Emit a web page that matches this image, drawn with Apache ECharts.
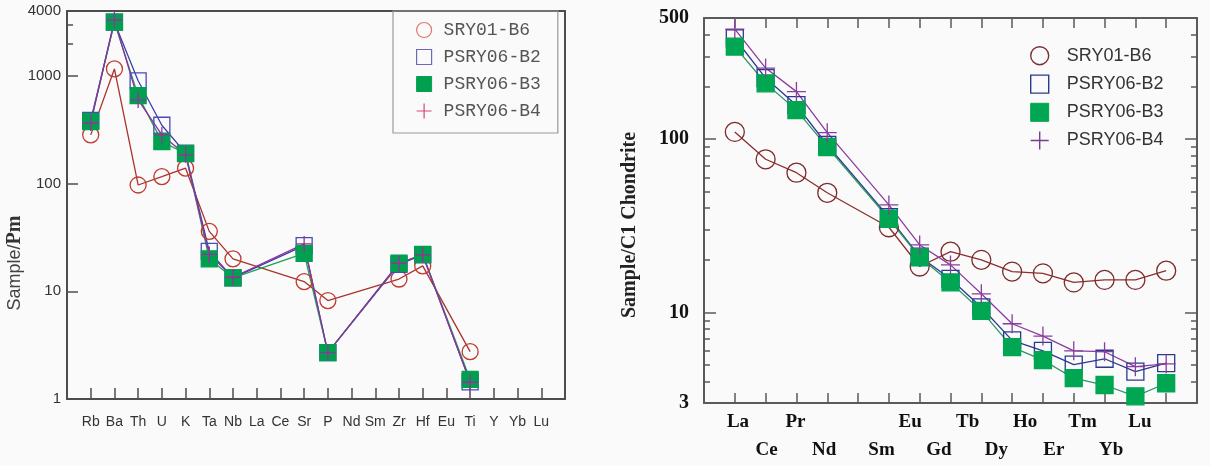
<!DOCTYPE html>
<html>
<head>
<meta charset="utf-8">
<title>Spider diagrams</title>
<script src="https://cdn.jsdelivr.net/npm/echarts@6/dist/echarts.min.js"></script>
<style>
html, body { margin: 0; padding: 0; background: #fafafa; }
#main { width: 1210px; height: 466px; }
</style>
</head>
<body>
<div id="main"></div>
<script>
// left: primitive mantle normalised spider diagram
var spiderElements = ['Rb','Ba','Th','U','K','Ta','Nb','La','Ce','Sr','P','Nd','Sm','Zr','Hf','Eu','Ti','Y','Yb','Lu'];
var spiderB6 = [283, 1160, 97, 116, 139, 36, 20, null, null, 12.3, 8.2, null, null, 13, 17.2, null, 2.75, null, null, null];
var spiderB2 = [385, 3150, 900, 348, 192, 23.5, 13.3, null, null, 26.5, 2.7, null, null, 17.8, 21.8, null, 1.44, null, null, null];
var spiderB3 = [376, 3150, 655, 245, 190, 20, 13.3, null, null, 22.5, 2.7, null, null, 18.2, 22, null, 1.52, null, null, null];
var spiderB4 = [365, 3300, 598, 283, 185, 22, 13.5, null, null, 27.5, 2.7, null, null, 18.2, 21.8, null, 1.43, null, null, null];
var spiderYLabels = [1, 10, 100, 1000, 4000];

// right: chondrite normalised REE (Pm has no value)
var reeElements = ['La','Ce','Pr','Nd','','Sm','Eu','Gd','Tb','Dy','Ho','Er','Tm','Yb','Lu'];
var reeB6 = [110, 76.5, 64, 49, null, 31, 18.4, 22.4, 20.1, 17.2, 16.8, 14.9, 15.4, 15.4, 17.4];
var reeB2 = [382, 225, 157, 92.5, null, 35.5, 21, 15.6, 10.7, 6.9, 6.0, 5.0, 5.4, 4.55, 5.1];
var reeB3 = [342, 210, 147, 90, null, 34.7, 20.8, 14.9, 10.2, 6.3, 5.3, 4.17, 3.81, 3.28, 3.9];
var reeB4 = [431, 257, 188, 109, null, 41.7, 24.5, 18.8, 12.8, 8.6, 7.3, 6.0, 5.93, 4.86, 5.04];
var reeYLabels = [3, 10, 100, 500];
var reeMajorTicks = [10, 100];
var reeMinorTicks = [4, 5, 6, 7, 8, 9, 20, 30, 40, 50, 60, 70, 80, 90, 200, 300, 400];

var names = ['SRY01-B6', 'PSRY06-B2', 'PSRY06-B3', 'PSRY06-B4'];
var plusPath = 'path://M0,5L10,5M5,0L5,10';

function toPoints(vals) {
  var out = [];
  vals.forEach(function (v, i) {
    if (v != null) out.push([i + 1, v]);
  });
  return out;
}
function range(n) {
  var a = [];
  for (var i = 1; i <= n; i++) a.push(i);
  return a;
}
function plain(v) { return String(v); }

var myChart = echarts.init(document.getElementById('main'));

var noLine = { show: false };

function lineSeries(name, data, xi, yi, symbol, size, lineColor, fill, stroke) {
  return {
    name: name,
    type: 'line',
    xAxisIndex: xi,
    yAxisIndex: yi,
    data: data,
    symbol: symbol,
    symbolSize: size,
    showAllSymbol: true,
    connectNulls: true,
    animation: false,
    lineStyle: { color: lineColor, width: 1.3 },
    itemStyle: { color: fill, borderColor: stroke, borderWidth: 1.3 },
    emphasis: { disabled: true }
  };
}

var option = {
  backgroundColor: '#fafafa',
  animation: false,
  grid: [
    { left: 67, top: 11, width: 498, height: 388 },
    { left: 704, top: 18, width: 493, height: 385 }
  ],
  xAxis: [
    {
      gridIndex: 0, type: 'value', position: 'bottom', min: 0, max: 21,
      axisLine: { show: true, onZero: false, lineStyle: { color: '#4d4d4d', width: 2 } },
      axisTick: { inside: true, length: 11, customValues: range(20), lineStyle: { color: '#4d4d4d', width: 1.5 } },
      axisLabel: {
        customValues: range(20), margin: 15,
        fontFamily: 'Liberation Sans', fontSize: 14, color: '#333', lineHeight: 16,
        formatter: function (v) { return spiderElements[Math.round(v) - 1]; }
      },
      splitLine: { show: false }
    },
    {
      gridIndex: 0, type: 'value', position: 'top', min: 0, max: 21,
      axisLine: { show: true, onZero: false, lineStyle: { color: '#4d4d4d', width: 2 } },
      axisTick: noLine, axisLabel: noLine, splitLine: noLine
    },
    {
      gridIndex: 1, type: 'value', position: 'bottom', min: 0, max: 16,
      axisLine: { show: true, onZero: false, lineStyle: { color: '#5a5a5a', width: 2 } },
      axisTick: { inside: true, length: 10, customValues: range(15), lineStyle: { color: '#5a5a5a', width: 1.5 } },
      axisLabel: noLine, splitLine: noLine
    },
    {
      gridIndex: 1, type: 'value', position: 'top', min: 0, max: 16,
      axisLine: { show: true, onZero: false, lineStyle: { color: '#5a5a5a', width: 2 } },
      axisTick: { inside: true, length: 10, customValues: range(15), lineStyle: { color: '#5a5a5a', width: 1.5 } },
      axisLabel: noLine, splitLine: noLine
    },
    {
      // label row of the REE plot, slightly narrower spacing than the ticks
      gridIndex: 1, type: 'value', position: 'bottom', min: -0.184, max: 16.99,
      axisLine: { show: false, onZero: false }, axisTick: noLine, splitLine: noLine,
      axisLabel: {
        customValues: range(15), margin: 5,
        fontFamily: 'Liberation Serif', fontWeight: 'bold', fontSize: 19, color: '#111', lineHeight: 28,
        formatter: function (v) {
          var i = Math.round(v);
          var s = reeElements[i - 1];
          return i % 2 === 0 ? '\n' + s : s;
        }
      }
    }
  ],
  yAxis: [
    {
      gridIndex: 0, type: 'log', logBase: 10, min: 1, max: 4000, position: 'left',
      axisLine: { show: true, onZero: false, lineStyle: { color: '#4d4d4d', width: 2 } },
      axisTick: { inside: true, length: 11, customValues: [1, 10, 100, 1000], lineStyle: { color: '#4d4d4d', width: 1.5 } },
      axisLabel: { customValues: spiderYLabels, margin: 6, fontFamily: 'Liberation Sans', fontSize: 15, color: '#333', formatter: plain },
      splitLine: noLine
    },
    {
      gridIndex: 0, type: 'log', logBase: 10, min: 1, max: 4000, position: 'left',
      axisLine: { show: false, onZero: false },
      axisTick: { inside: true, length: 6, customValues: [2000, 3000], lineStyle: { color: '#4d4d4d', width: 1.5 } },
      axisLabel: noLine, splitLine: noLine
    },
    {
      gridIndex: 0, type: 'log', logBase: 10, min: 1, max: 4000, position: 'right',
      axisLine: { show: true, onZero: false, lineStyle: { color: '#4d4d4d', width: 2 } },
      axisTick: noLine, axisLabel: noLine, splitLine: noLine
    },
    {
      gridIndex: 1, type: 'log', logBase: 10, min: 3, max: 500, position: 'left',
      axisLine: { show: true, onZero: false, lineStyle: { color: '#5a5a5a', width: 2 } },
      axisTick: { inside: true, length: 12, customValues: reeMajorTicks, lineStyle: { color: '#5a5a5a', width: 1.5 } },
      axisLabel: { customValues: reeYLabels, margin: 15, fontFamily: 'Liberation Serif', fontWeight: 'bold', fontSize: 20, color: '#111', formatter: plain },
      splitLine: noLine
    },
    {
      gridIndex: 1, type: 'log', logBase: 10, min: 3, max: 500, position: 'left',
      axisLine: { show: false, onZero: false },
      axisTick: { inside: true, length: 6, customValues: reeMinorTicks, lineStyle: { color: '#5a5a5a', width: 1.5 } },
      axisLabel: noLine, splitLine: noLine
    },
    {
      gridIndex: 1, type: 'log', logBase: 10, min: 3, max: 500, position: 'right',
      axisLine: { show: true, onZero: false, lineStyle: { color: '#5a5a5a', width: 2 } },
      axisTick: { inside: true, length: 12, customValues: reeMajorTicks, lineStyle: { color: '#5a5a5a', width: 1.5 } },
      axisLabel: noLine, splitLine: noLine
    },
    {
      gridIndex: 1, type: 'log', logBase: 10, min: 3, max: 500, position: 'right',
      axisLine: { show: false, onZero: false },
      axisTick: { inside: true, length: 6, customValues: reeMinorTicks, lineStyle: { color: '#5a5a5a', width: 1.5 } },
      axisLabel: noLine, splitLine: noLine
    }
  ],
  legend: [
    {
      left: 393, top: 11, orient: 'vertical', selectedMode: false,
      padding: [10, 17, 13, 23], itemWidth: 15, itemHeight: 15, itemGap: 9,
      borderColor: '#9a9a9a', borderWidth: 1.2,
      textStyle: { fontFamily: 'Liberation Mono', fontSize: 18, color: '#555', lineHeight: 15, padding: [0, 0, 0, 7] },
      data: [
        { name: names[0], icon: 'circle', itemStyle: { color: 'transparent', borderColor: '#e0766b', borderWidth: 1.2 } },
        { name: names[1], icon: 'rect', itemStyle: { color: 'transparent', borderColor: '#6a6ab8', borderWidth: 1.2 } },
        { name: names[2], icon: 'rect', itemStyle: { color: '#00a050', borderColor: '#00a050', borderWidth: 1 } },
        { name: names[3], icon: plusPath, itemStyle: { color: 'transparent', borderColor: '#d5467a', borderWidth: 1.2 } }
      ]
    },
    {
      left: 1030, top: 46, orient: 'vertical', selectedMode: false,
      padding: 0, itemWidth: 18, itemHeight: 18, itemGap: 9,
      textStyle: { fontFamily: 'Liberation Sans', fontSize: 18, color: '#333', padding: [0, 0, 0, 13] },
      data: [
        { name: names[0], icon: 'circle', itemStyle: { color: 'transparent', borderColor: '#7d3030', borderWidth: 1.4 } },
        { name: names[1], icon: 'rect', itemStyle: { color: 'transparent', borderColor: '#2b3a8c', borderWidth: 1.4 } },
        { name: names[2], icon: 'rect', itemStyle: { color: '#00a651', borderColor: '#00a651', borderWidth: 1 } },
        { name: names[3], icon: plusPath, itemStyle: { color: 'transparent', borderColor: '#7a3a96', borderWidth: 1.4 } }
      ]
    }
  ],
  graphic: [
    {
      type: 'text', x: 15, y: 263, rotation: Math.PI / 2,
      style: {
        text: '{a|Sample/}{b|Pm}', align: 'center', verticalAlign: 'middle',
        rich: {
          a: { fontFamily: 'Liberation Sans', fontSize: 18, fill: '#444' },
          b: { fontFamily: 'Liberation Serif', fontWeight: 'bold', fontSize: 20, fill: '#333' }
        }
      }
    },
    {
      type: 'text', x: 630, y: 225, rotation: Math.PI / 2,
      style: {
        text: 'Sample/C1 Chondrite', align: 'center', verticalAlign: 'middle',
        fontFamily: 'Liberation Serif', fontWeight: 'bold', fontSize: 20, fill: '#222'
      }
    }
  ],
  series: [
    lineSeries(names[0], toPoints(spiderB6), 0, 0, 'circle', 16, '#a8332c', 'transparent', '#c0392f'),
    lineSeries(names[1], toPoints(spiderB2), 0, 0, 'rect', 16, '#3b3fae', 'transparent', '#4a4ab8'),
    lineSeries(names[2], toPoints(spiderB3), 0, 0, 'rect', 16, '#1fa055', '#00a050', '#00a050'),
    lineSeries(names[3], toPoints(spiderB4), 0, 0, plusPath, 16, '#8e2fa0', 'transparent', '#9a2f9a'),
    lineSeries(names[0], toPoints(reeB6), 2, 3, 'circle', 19, '#8b2e2e', 'transparent', '#7d2a2a'),
    lineSeries(names[1], toPoints(reeB2), 2, 3, 'rect', 17, '#2b3990', 'transparent', '#2b3990'),
    lineSeries(names[2], toPoints(reeB3), 2, 3, 'rect', 17, '#2e9466', '#00a651', '#00a651'),
    lineSeries(names[3], toPoints(reeB4), 2, 3, plusPath, 19, '#8a3d9e', 'transparent', '#8a3d9e')
  ]
};

myChart.setOption(option);
</script>
</body>
</html>
